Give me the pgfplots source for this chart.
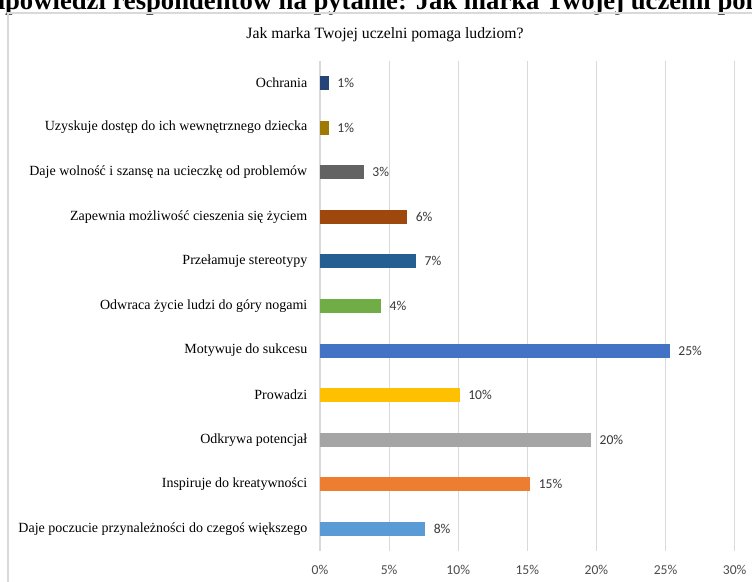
\documentclass[border=0pt]{standalone}
\usepackage{pgfplots}
\pgfplotsset{compat=1.18}
\usepackage{fontspec}
\setmainfont{Liberation Serif}
\newfontfamily\carlito{Carlito}
\definecolor{c1}{HTML}{264478}
\definecolor{c2}{HTML}{9E7A00}
\definecolor{c3}{HTML}{636363}
\definecolor{c4}{HTML}{9E480E}
\definecolor{c5}{HTML}{255E91}
\definecolor{c6}{HTML}{70AD47}
\definecolor{c7}{HTML}{4472C4}
\definecolor{c8}{HTML}{FFC000}
\definecolor{c9}{HTML}{A5A5A5}
\definecolor{c10}{HTML}{ED7D31}
\definecolor{c11}{HTML}{5B9BD5}
\definecolor{gridc}{HTML}{D9D9D9}
\begin{document}
\begin{tikzpicture}
\path[use as bounding box] (0pt,0pt) rectangle (564pt,435.75pt);
\clip (0pt,0pt) rectangle (564pt,435.75pt);
\fill[white] (0pt,0pt) rectangle (564pt,435.75pt);
\node[anchor=base west,font=\bfseries\fontsize{20}{24}\selectfont,inner sep=0pt] at (-23pt,428.5pt) {Odpowiedzi respondentów na pytanie: Jak marka Twojej uczelni pomaga ludziom?};
\draw[gridc,line width=0.8pt] (6pt,-5pt) -- (6pt,426pt) -- (570pt,426pt);
\node[font=\fontsize{11.8}{14}\selectfont] at (288.75pt,409.5pt) {Jak marka Twojej uczelni pomaga ludziom?};
\begin{axis}[
  at={(240pt,22.3pt)}, anchor=south west,
  scale only axis, width=311pt, height=368pt,
  xbar, bar width=10.5pt, bar shift=0pt,
  xmin=0, xmax=30, ymin=-0.5, ymax=10.5, y dir=reverse,
  xtick={0,5,...,30},
  xticklabels={0\%,5\%,10\%,15\%,20\%,25\%,30\%},
  ytick={0,...,10},
  yticklabels={Ochrania,Uzyskuje dostęp do ich wewnętrznego dziecka,Daje wolność i szansę na ucieczkę od problemów,Zapewnia możliwość cieszenia się życiem,Przełamuje stereotypy,Odwraca życie ludzi do góry nogami,Motywuje do sukcesu,Prowadzi,Odkrywa potencjał,Inspiruje do kreatywności,Daje poczucie przynależności do czegoś większego},
  xmajorgrids, major grid style={gridc,line width=0.8pt},
  axis line style={draw=none},
  major tick length=0pt,
  xticklabel style={font=\carlito\fontsize{10.2}{12}\selectfont,text=black!70,yshift=-7pt},
  yticklabel style={font=\fontsize{10.5}{12}\selectfont,text=black,xshift=-6pt},
  point meta=explicit symbolic,
  nodes near coords,
  nodes near coords style={font=\carlito\fontsize{10.2}{12}\selectfont,text=black!78,anchor=west,xshift=3pt},
  clip=false,
]
\addplot[fill=c1,draw=none] coordinates {(0.63,0) [1\%]};
\addplot[fill=c2,draw=none] coordinates {(0.63,1) [1\%]};
\addplot[fill=c3,draw=none] coordinates {(3.16,2) [3\%]};
\addplot[fill=c4,draw=none] coordinates {(6.3,3) [6\%]};
\addplot[fill=c5,draw=none] coordinates {(6.94,4) [7\%]};
\addplot[fill=c6,draw=none] coordinates {(4.41,5) [4\%]};
\addplot[fill=c7,draw=none] coordinates {(25.3,6) [25\%]};
\addplot[fill=c8,draw=none] coordinates {(10.1,7) [10\%]};
\addplot[fill=c9,draw=none] coordinates {(19.6,8) [20\%]};
\addplot[fill=c10,draw=none] coordinates {(15.2,9) [15\%]};
\addplot[fill=c11,draw=none] coordinates {(7.6,10) [8\%]};
\end{axis}
\end{tikzpicture}
\end{document}
